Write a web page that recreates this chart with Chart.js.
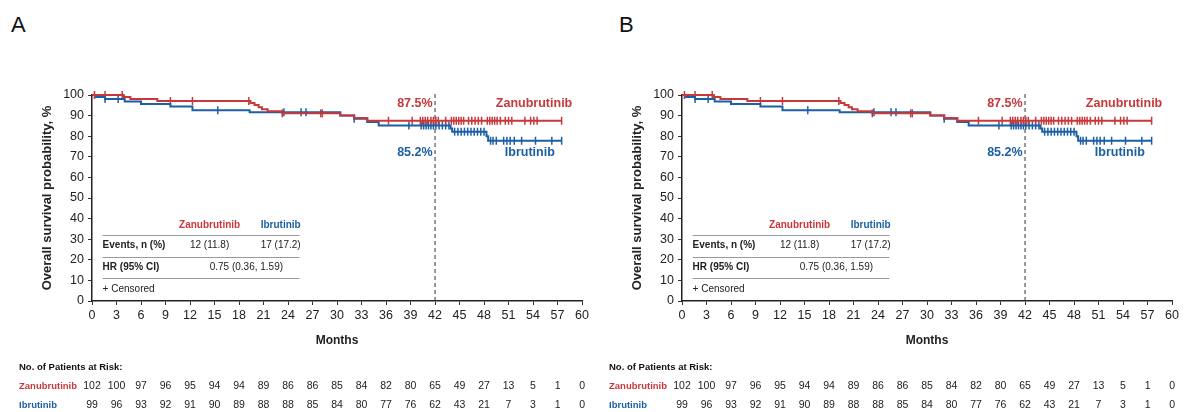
<!DOCTYPE html>
<html>
<head>
<meta charset="utf-8">
<script src="https://cdn.jsdelivr.net/npm/chart.js@4"></script>
<style>
  body { margin: 0; background: #fff; width: 1185px; height: 412px; position: relative; overflow: hidden; font-family: 'Liberation Sans', Arial, sans-serif; }
  canvas { position: absolute; top: 0; }
  .panel-label { position: absolute; top: 12px; font-size: 22px; color: #111; }
</style>
</head>
<body>
<div class="panel-label" style="left:11px">A</div>
<div class="panel-label" style="left:619px">B</div>
<canvas id="chartA" width="592" height="412" style="left:0"></canvas>
<canvas id="chartB" width="592" height="412" style="left:590px"></canvas>
<script>
// --- datos ---
const RED = '#c8383b';
const BLUE = '#1d5fa5';
const FONT = "'Liberation Sans', Arial, sans-serif";

// curva Kaplan-Meier (tiempo en meses, supervivencia %)
const zanuTimes = [0, 3.9, 4.7, 8.0, 19.4, 19.9, 20.4, 20.8, 21.5, 23.3, 30.4, 32.1, 33.7, 57.5];
const zanuSurv  = [100, 99.0, 98.0, 97.1, 96.1, 95.1, 94.1, 93.1, 92.1, 91.1, 90.1, 88.8, 87.5, 87.5];
const ibruTimes = [0, 0.5, 1.6, 4.0, 6.0, 9.6, 12.3, 19.3, 30.4, 32.1, 33.7, 35.1, 43.9, 44.1, 48.3, 48.5, 57.5];
const ibruSurv  = [100, 99.0, 98.0, 96.9, 95.6, 94.4, 92.6, 91.6, 90.1, 88.5, 86.9, 85.2, 83.7, 82.2, 80.0, 77.8, 77.8];

// censurados
const zanuCensored = [0.3, 1.6, 3.7, 9.6, 12.3, 19.2, 23.3, 28.0, 28.2, 36.3, 39.2, 40.2, 40.5, 40.8, 41.1, 41.5, 41.8,
  42.1, 42.4, 43.3, 44.0, 44.3, 44.6, 44.9, 45.2, 45.5, 46.1, 46.5, 46.9, 47.3, 47.7, 48.4, 48.7, 49.0, 49.3, 49.6,
  50.0, 50.6, 51.0, 51.4, 53.0, 53.7, 54.1, 54.5, 57.5];
const ibruCensored = [1.6, 3.2, 15.4, 23.5, 25.6, 26.2, 32.1, 38.8, 40.3, 40.6, 40.9, 41.2, 41.5, 41.8, 42.1, 42.5,
  42.9, 43.3, 43.7, 44.4, 44.8, 45.2, 45.6, 46.0, 46.4, 46.8, 47.2, 47.6, 48.0, 48.8, 49.1, 49.5, 50.4, 50.8, 51.2,
  51.7, 52.6, 54.3, 56.3, 57.5];

// pacientes en riesgo
const riskMonths = [0, 3, 6, 9, 12, 15, 18, 21, 24, 27, 30, 33, 36, 39, 42, 45, 48, 51, 54, 57, 60];
const zanuAtRisk = [102, 100, 97, 96, 95, 94, 94, 89, 86, 86, 85, 84, 82, 80, 65, 49, 27, 13, 5, 1, 0];
const ibruAtRisk = [99, 96, 93, 92, 91, 90, 89, 88, 88, 85, 84, 80, 77, 76, 62, 43, 21, 7, 3, 1, 0];

const landmarkMonth = 42;
const zanuLandmark = '87.5%';
const ibruLandmark = '85.2%';
const eventsRow = ['Events, n (%)', '12 (11.8)', '17 (17.2)'];
const hrRow = ['HR (95% CI)', '0.75 (0.36, 1.59)'];

function survAt(times, vals, t) {
    let s = vals[0];
    for (let i = 0; i < times.length; i++) {
        if (times[i] <= t) s = vals[i];
    }
    return s;
}

// textos anotados (tabla interna, etiquetas, en riesgo)
const annotations = {
    id: 'kmText',
    afterDatasetsDraw(chart) {
        const c = chart.ctx;
        const x = chart.scales.x, y = chart.scales.y;
        const px = v => x.getPixelForValue(v);
        const py = v => y.getPixelForValue(v);
        c.save();
        c.textBaseline = 'middle';

        // etiquetas de las curvas
        c.font = 'bold 12.5px ' + FONT;
        c.fillStyle = RED;
        c.textAlign = 'right';
        c.fillText(zanuLandmark, px(41.7), py(96));
        c.fillText('Zanubrutinib', px(58.8), py(96));
        c.fillStyle = BLUE;
        c.fillText(ibruLandmark, px(41.7), py(72));
        c.textAlign = 'center';
        c.fillText('Ibrutinib', px(53.6), py(72));

        // tabla interna
        c.font = 'bold 10px ' + FONT;
        c.fillStyle = RED;
        c.fillText('Zanubrutinib', px(14.4), py(36.9));
        c.fillStyle = BLUE;
        c.fillText('Ibrutinib', px(23.1), py(36.9));
        c.strokeStyle = '#9a9a9a';
        c.lineWidth = 1;
        [32, 21.5, 11].forEach(v => {
            c.beginPath();
            c.moveTo(px(1.3), Math.round(py(v)) + 0.5);
            c.lineTo(px(25.4), Math.round(py(v)) + 0.5);
            c.stroke();
        });
        c.fillStyle = '#222';
        c.textAlign = 'left';
        c.fillText(eventsRow[0], px(1.3), py(27.2));
        c.fillText(hrRow[0], px(1.3), py(16.4));
        c.font = '10px ' + FONT;
        c.textAlign = 'center';
        c.fillText(eventsRow[1], px(14.4), py(27.2));
        c.fillText(eventsRow[2], px(23.1), py(27.2));
        c.fillText(hrRow[1], px(18.9), py(16.4));
        c.textAlign = 'left';
        c.fillText('+ Censored', px(1.3), py(5.8));

        // pacientes en riesgo
        const labelX = chart.chartArea.left - 73;
        c.font = 'bold 9.5px ' + FONT;
        c.fillStyle = '#111';
        c.fillText('No. of Patients at Risk:', labelX, 367);
        c.fillStyle = RED;
        c.fillText('Zanubrutinib', labelX, 386);
        c.fillStyle = BLUE;
        c.fillText('Ibrutinib', labelX, 405);
        c.font = '10.5px ' + FONT;
        c.fillStyle = '#222';
        c.textAlign = 'center';
        riskMonths.forEach((m, i) => {
            c.fillText(zanuAtRisk[i], px(m), 386);
            c.fillText(ibruAtRisk[i], px(m), 405);
        });
        c.restore();
    }
};

function makePanel(canvasId) {
    const ctx = document.getElementById(canvasId).getContext('2d');
    const tickFont = { family: FONT, size: 12.5 };
    return new Chart(ctx, {
        type: 'line',
        data: {
            datasets: [
                {
                    data: zanuTimes.map((t, i) => ({ x: t, y: zanuSurv[i] })),
                    borderColor: RED, borderWidth: 2, stepped: true,
                    pointRadius: 0, fill: false, clip: false
                },
                {
                    data: ibruTimes.map((t, i) => ({ x: t, y: ibruSurv[i] })),
                    borderColor: BLUE, borderWidth: 2, stepped: true,
                    pointRadius: 0, fill: false, clip: false
                },
                {
                    data: zanuCensored.map(t => ({ x: t, y: survAt(zanuTimes, zanuSurv, t) })),
                    showLine: false, pointStyle: 'line', rotation: 90, pointRadius: 4,
                    borderColor: RED, borderWidth: 1.5, clip: false
                },
                {
                    data: ibruCensored.map(t => ({ x: t, y: survAt(ibruTimes, ibruSurv, t) })),
                    showLine: false, pointStyle: 'line', rotation: 90, pointRadius: 4,
                    borderColor: BLUE, borderWidth: 1.5, clip: false
                },
                {
                    data: [{ x: landmarkMonth, y: 0 }, { x: landmarkMonth, y: 101 }],
                    borderColor: '#333', borderWidth: 1, borderDash: [4, 3],
                    pointRadius: 0, fill: false, clip: false
                }
            ]
        },
        options: {
            responsive: false,
            animation: false,
            events: [],
            layout: { padding: { left: 0, top: 95, right: 8, bottom: 0 } },
            plugins: { legend: { display: false }, tooltip: { enabled: false } },
            scales: {
                x: {
                    type: 'linear', min: 0, max: 60,
                    afterFit: s => { s.height = 111; },
                    ticks: { stepSize: 3, color: '#222', font: tickFont, padding: 3, maxRotation: 0, autoSkip: false },
                    grid: { drawOnChartArea: false, drawTicks: true, tickLength: 4, color: '#333' },
                    border: { color: '#222', width: 1.5 },
                    title: { display: true, text: 'Months', color: '#222', font: { family: FONT, size: 12, weight: 'bold' }, padding: { top: 0, bottom: 64 } }
                },
                y: {
                    min: 0, max: 100,
                    afterFit: s => { s.width = 92; },
                    ticks: { stepSize: 10, color: '#222', font: tickFont, padding: 4 },
                    grid: { drawOnChartArea: false, drawTicks: true, tickLength: 4, color: '#333' },
                    border: { color: '#222', width: 1.5 },
                    title: { display: true, text: 'Overall survival probability, %', color: '#222', font: { family: FONT, size: 13, weight: 'bold' }, padding: { top: 40 } }
                }
            }
        },
        plugins: [annotations]
    });
}

makePanel('chartA');
makePanel('chartB');
</script>
</body>
</html>
